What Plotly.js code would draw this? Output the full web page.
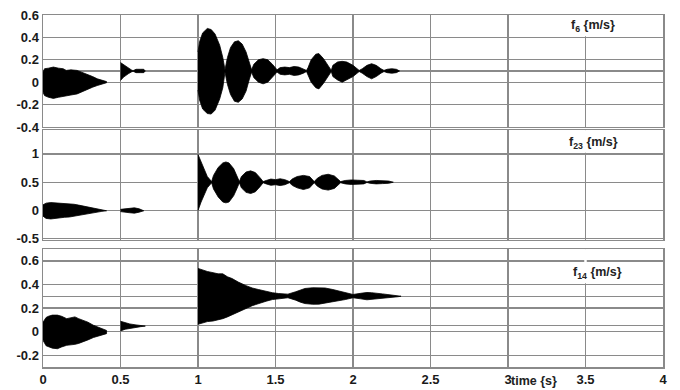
<!DOCTYPE html>
<html>
<head>
<meta charset="utf-8">
<script src="https://cdn.plot.ly/plotly-3.0.1.min.js"></script>
<style>html,body{margin:0;padding:0;background:#fff;}#chart{width:680px;height:390px;}</style>
</head>
<body>
<div id="chart"></div>
<script>
// Panel f6
const f6_s1_t = [0, 0.01, 0.035, 0.067, 0.1, 0.13, 0.15, 0.18, 0.22, 0.25, 0.28, 0.32, 0.35, 0.38, 0.41];
const f6_s1_up = [0.09, 0.12, 0.125, 0.135, 0.125, 0.12, 0.105, 0.11, 0.105, 0.09, 0.07, 0.05, 0.03, 0.015, 0.005];
const f6_s1_lo = [-0.09, -0.12, -0.135, -0.145, -0.135, -0.125, -0.12, -0.115, -0.105, -0.09, -0.07, -0.045, -0.03, -0.015, -0.005];
const f6_s2_t = [0.5, 0.52, 0.55, 0.575, 0.585, 0.6, 0.63, 0.65, 0.66];
const f6_s2_up = [0.175, 0.155, 0.125, 0.105, 0.105, 0.115, 0.115, 0.115, 0.1];
const f6_s2_lo = [0.015, 0.045, 0.075, 0.095, 0.095, 0.085, 0.085, 0.085, 0.1];
const f6_s3_t = [1.0, 1.01, 1.03, 1.06, 1.085, 1.11, 1.14, 1.16, 1.174,
  1.19, 1.21, 1.235, 1.26, 1.285, 1.31, 1.33, 1.346,
  1.36, 1.39, 1.42, 1.45, 1.48, 1.51,
  1.53, 1.56, 1.59, 1.62, 1.65, 1.68, 1.70,
  1.71, 1.73, 1.76, 1.78, 1.81, 1.84, 1.86,
  1.87, 1.9, 1.93, 1.96, 2.0, 2.04,
  2.06, 2.09, 2.12, 2.15, 2.18, 2.2,
  2.22, 2.25, 2.28, 2.30];
const f6_s3_up = [0.27, 0.36, 0.44, 0.48, 0.47, 0.43, 0.33, 0.22, 0.11,
  0.22, 0.31, 0.36, 0.37, 0.34, 0.27, 0.18, 0.11,
  0.16, 0.2, 0.21, 0.2, 0.16, 0.11,
  0.13, 0.135, 0.13, 0.14, 0.135, 0.12, 0.105,
  0.13, 0.2, 0.25, 0.255, 0.21, 0.15, 0.105,
  0.15, 0.18, 0.186, 0.18, 0.15, 0.105,
  0.12, 0.15, 0.165, 0.15, 0.12, 0.105,
  0.115, 0.12, 0.115, 0.1];
const f6_s3_lo = [-0.07, -0.16, -0.24, -0.28, -0.285, -0.25, -0.15, -0.05, 0.09,
  -0.02, -0.11, -0.17, -0.18, -0.15, -0.08, 0.02, 0.09,
  0.04, 0.0, -0.015, 0.0, 0.04, 0.09,
  0.07, 0.065, 0.07, 0.06, 0.065, 0.08, 0.095,
  0.07, 0.0, -0.05, -0.06, -0.01, 0.05, 0.095,
  0.05, 0.02, 0.0, 0.02, 0.05, 0.095,
  0.08, 0.05, 0.03, 0.05, 0.08, 0.095,
  0.085, 0.08, 0.085, 0.1];

// Panel f23
const f23_s1_t = [0, 0.02, 0.05, 0.08, 0.11, 0.14, 0.17, 0.2, 0.23, 0.27, 0.31, 0.35, 0.38, 0.41];
const f23_s1_up = [0.1, 0.13, 0.14, 0.135, 0.13, 0.12, 0.11, 0.11, 0.095, 0.075, 0.05, 0.03, 0.015, 0.005];
const f23_s1_lo = [-0.1, -0.14, -0.15, -0.14, -0.13, -0.12, -0.115, -0.11, -0.095, -0.075, -0.05, -0.03, -0.015, -0.005];
const f23_s2_t = [0.5, 0.53, 0.56, 0.59, 0.62, 0.65];
const f23_s2_up = [0.02, 0.03, 0.04, 0.047, 0.03, 0.005];
const f23_s2_lo = [-0.02, -0.03, -0.04, -0.047, -0.03, -0.005];
const f23_s3_t = [1.0, 1.02, 1.04, 1.06, 1.088,
  1.1, 1.13, 1.16, 1.18, 1.2, 1.23, 1.25, 1.267,
  1.28, 1.31, 1.34, 1.37, 1.40, 1.42,
  1.44, 1.47, 1.5, 1.53, 1.56, 1.59,
  1.61, 1.64, 1.68, 1.72, 1.75,
  1.77, 1.8, 1.84, 1.88, 1.92,
  1.95, 1.99, 2.03, 2.07, 2.09,
  2.11, 2.15, 2.19, 2.23, 2.26];
const f23_s3_up = [0.99, 0.85, 0.72, 0.6, 0.51,
  0.62, 0.76, 0.84, 0.857, 0.84, 0.74, 0.62, 0.51,
  0.6, 0.68, 0.70, 0.67, 0.58, 0.51,
  0.53, 0.555, 0.545, 0.56, 0.545, 0.51,
  0.56, 0.6, 0.62, 0.6, 0.51,
  0.57, 0.62, 0.64, 0.61, 0.51,
  0.53, 0.54, 0.535, 0.53, 0.505,
  0.52, 0.53, 0.525, 0.52, 0.5];
const f23_s3_lo = [0.0, 0.15, 0.28, 0.4, 0.49,
  0.38, 0.24, 0.15, 0.135, 0.15, 0.26, 0.38, 0.49,
  0.4, 0.32, 0.30, 0.33, 0.42, 0.49,
  0.47, 0.445, 0.455, 0.44, 0.455, 0.49,
  0.44, 0.4, 0.37, 0.4, 0.49,
  0.43, 0.38, 0.36, 0.39, 0.49,
  0.47, 0.46, 0.465, 0.47, 0.495,
  0.48, 0.47, 0.475, 0.48, 0.5];

// Panel f14
const f14_s1_t = [0, 0.02, 0.035, 0.06, 0.093, 0.12, 0.153, 0.18, 0.206, 0.23, 0.26, 0.29, 0.325, 0.36, 0.39, 0.41];
const f14_s1_up = [0.08, 0.12, 0.13, 0.14, 0.14, 0.13, 0.11, 0.12, 0.125, 0.11, 0.096, 0.08, 0.054, 0.035, 0.02, 0.01];
const f14_s1_lo = [-0.074, -0.12, -0.13, -0.14, -0.145, -0.13, -0.116, -0.11, -0.108, -0.1, -0.088, -0.07, -0.05, -0.035, -0.025, -0.017];
const f14_s2_t = [0.5, 0.53, 0.56, 0.6, 0.63, 0.66];
const f14_s2_up = [0.088, 0.075, 0.065, 0.057, 0.052, 0.047];
const f14_s2_lo = [0.006, 0.02, 0.03, 0.037, 0.042, 0.047];
const f14_s3_t = [1.0, 1.03, 1.06, 1.097, 1.13, 1.16, 1.19, 1.22, 1.26, 1.31, 1.35, 1.39, 1.44, 1.48, 1.52, 1.58, 1.63, 1.66, 1.69, 1.74, 1.78, 1.82, 1.87, 1.91, 1.95, 2.0, 2.05, 2.09, 2.12, 2.15, 2.19, 2.22, 2.26, 2.29, 2.31];
const f14_s3_up = [0.536, 0.52, 0.51, 0.5, 0.49, 0.49, 0.465, 0.45, 0.42, 0.39, 0.37, 0.357, 0.34, 0.33, 0.323, 0.318, 0.338, 0.355, 0.366, 0.372, 0.374, 0.37, 0.357, 0.345, 0.332, 0.315, 0.325, 0.332, 0.33, 0.323, 0.32, 0.315, 0.31, 0.305, 0.3];
const f14_s3_lo = [0.062, 0.075, 0.085, 0.09, 0.1, 0.11, 0.125, 0.14, 0.165, 0.196, 0.22, 0.238, 0.258, 0.272, 0.28, 0.287, 0.267, 0.25, 0.238, 0.232, 0.233, 0.24, 0.252, 0.262, 0.272, 0.287, 0.278, 0.27, 0.272, 0.28, 0.283, 0.287, 0.292, 0.296, 0.3];

// Tick labels / grid levels
const xTicks = [0, 0.5, 1, 1.5, 2, 2.5, 3, 3.5, 4];
const xTickText = ['0', '0.5', '1', '1.5', '2', '2.5', '3', '3.5', '4'];
const y1Ticks = [-0.4, -0.2, 0, 0.1, 0.2, 0.4, 0.6];
const y1Text = ['-0.4', '-0.2', '0', '', '0.2', '0.4', '0.6'];
const y2Ticks = [-0.5, 0, 0.5, 1];
const y2Text = ['-0.5', '0', '0.5', '1'];
const y3Ticks = [-0.2, 0, 0.05, 0.2, 0.3, 0.4, 0.6];
const y3Text = ['-0.2', '0', '', '0.2', '', '0.4', '0.6'];
const panelLabels = ['f<sub>6</sub> {m/s}', 'f<sub>23</sub> {m/s}', 'f<sub>14</sub> {m/s}'];
const xTitle = 'time {s}';

// ---- Build traces ----
function band(t, up, lo, xa, ya) {
  const xs = t.concat(t.slice().reverse());
  const ys = up.concat(lo.slice().reverse());
  return {x: xs, y: ys, xaxis: xa, yaxis: ya, type: 'scatter', mode: 'lines',
    fill: 'toself', fillcolor: '#000', line: {color: '#000', width: 0.8},
    hoverinfo: 'skip', showlegend: false};
}
const traces = [
  band(f6_s1_t, f6_s1_up, f6_s1_lo, 'x', 'y'),
  band(f6_s2_t, f6_s2_up, f6_s2_lo, 'x', 'y'),
  band(f6_s3_t, f6_s3_up, f6_s3_lo, 'x', 'y'),
  band(f23_s1_t, f23_s1_up, f23_s1_lo, 'x2', 'y2'),
  band(f23_s2_t, f23_s2_up, f23_s2_lo, 'x2', 'y2'),
  band(f23_s3_t, f23_s3_up, f23_s3_lo, 'x2', 'y2'),
  band(f14_s1_t, f14_s1_up, f14_s1_lo, 'x3', 'y3'),
  band(f14_s2_t, f14_s2_up, f14_s2_lo, 'x3', 'y3'),
  band(f14_s3_t, f14_s3_up, f14_s3_lo, 'x3', 'y3')
];

const bold = s => s === '' ? '' : '<b>' + s + '</b>';
const gridC = '#8a8a8a';
const tickFont = {family: 'Arial, "Liberation Sans", sans-serif', size: 13, color: '#1a1a1a'};
function xax(anchor, labels) {
  return {domain: [0, 1], anchor: anchor, range: [0, 4], tickmode: 'array', tickvals: xTicks,
    ticktext: xTickText.map(bold), showticklabels: labels, ticks: '', showgrid: true, gridcolor: gridC,
    gridwidth: 1.3, zeroline: false, showline: true, mirror: true, linecolor: gridC, linewidth: 1.5,
    tickfont: tickFont, fixedrange: true};
}
function yax(anchor, dom, rng, tv, tt) {
  return {domain: dom, anchor: anchor, range: rng, tickmode: 'array', tickvals: tv, ticktext: tt.map(bold),
    ticks: '', showgrid: true, gridcolor: gridC, gridwidth: 1.3, zeroline: false, showline: true,
    mirror: true, linecolor: gridC, linewidth: 1.5, tickfont: tickFont, fixedrange: true};
}

const labFont = {family: 'Arial, "Liberation Sans", sans-serif', size: 12.5, color: '#222'};
const layout = {
  width: 680, height: 390,
  margin: {l: 43, r: 17, t: 15, b: 23},
  paper_bgcolor: '#fff', plot_bgcolor: '#fff',
  showlegend: false,
  xaxis: xax('y', false),
  xaxis2: xax('y2', false),
  xaxis3: xax('y3', true),
  yaxis: yax('x', [0.682, 1], [-0.4, 0.6], y1Ticks, y1Text),
  yaxis2: yax('x2', [0.361, 0.673], [-0.52, 1.42], y2Ticks, y2Text),
  yaxis3: yax('x3', [0, 0.335], [-0.3, 0.7], y3Ticks, y3Text),
  shapes: [
    {type: 'line', xref: 'x', yref: 'y', x0: 3.5, x1: 3.5, y0: 0.41, y1: 0.6, layer: 'between', line: {color: '#fff', width: 2.5}},
    {type: 'line', xref: 'x2', yref: 'y2', x0: 3.5, x1: 3.5, y0: 1.02, y1: 1.42, layer: 'between', line: {color: '#fff', width: 2.5}},
    {type: 'line', xref: 'x3', yref: 'y3', x0: 3.5, x1: 3.5, y0: 0.41, y1: 0.7, layer: 'between', line: {color: '#fff', width: 2.5}}
  ],
  annotations: [
    {text: bold(panelLabels[0]), xref: 'x', yref: 'y', x: 3.55, y: 0.5, showarrow: false, font: labFont, xanchor: 'center', yanchor: 'middle'},
    {text: bold(panelLabels[1]), xref: 'x2', yref: 'y2', x: 3.55, y: 1.2, showarrow: false, font: labFont, xanchor: 'center', yanchor: 'middle'},
    {text: bold(panelLabels[2]), xref: 'x3', yref: 'y3', x: 3.58, y: 0.5, showarrow: false, font: labFont, xanchor: 'center', yanchor: 'middle'},
    {text: bold(xTitle), xref: 'x3', yref: 'paper', x: 3.17, y: -0.064, showarrow: false, font: labFont, xanchor: 'center', yanchor: 'bottom'}
  ]
};

Plotly.newPlot('chart', traces, layout, {staticPlot: true, displayModeBar: false});
</script>
</body>
</html>
